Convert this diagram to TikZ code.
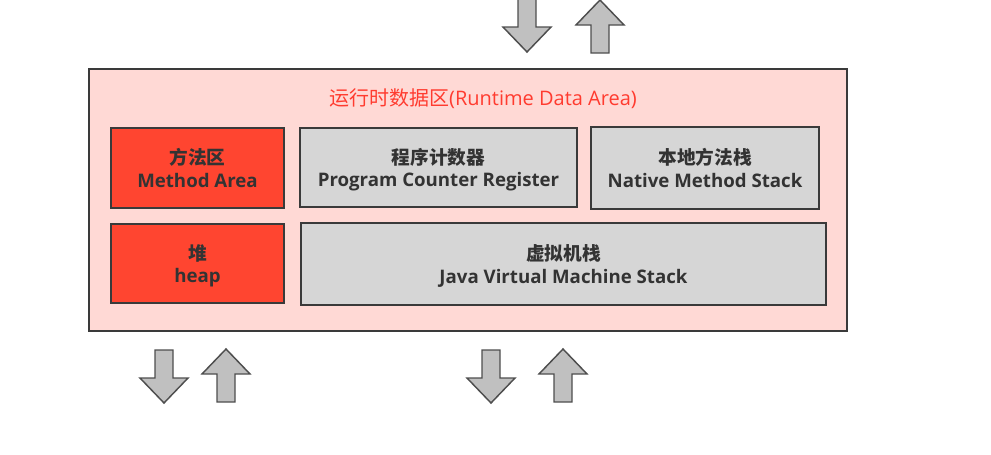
\documentclass[tikz,border=0pt]{standalone}
\usepackage{fontspec}
\setmainfont{Open Sans}
\newfontfamily\cjk{Noto Sans CJK SC}
\usepackage{tikz}
\definecolor{areaFill}{HTML}{FFD9D5}
\definecolor{heapRed}{HTML}{FF4530}
\definecolor{stackGray}{HTML}{D6D6D6}
\definecolor{edgeGray}{HTML}{3A3A3A}
\definecolor{arrowGray}{HTML}{C0C0C0}
\definecolor{titleRed}{HTML}{FF3B2F}
\definecolor{labelGray}{HTML}{333333}
\tikzset{
  pics/down arrow/.style={
    code={
      \draw[block arrow] (-9,0) -- (9,0) -- (9,28) -- (24,28) -- (0,53)
        -- (-24,28) -- (-9,28) -- cycle;
    },
  },
  pics/up arrow/.style={
    code={
      \draw[block arrow] (0,0) -- (24,25) -- (9,25) -- (9,53) -- (-9,53)
        -- (-9,25) -- (-24,25) -- cycle;
    },
  },
}

\begin{document}
\begin{tikzpicture}[
  x=0.75pt,
  y=-0.75pt,
  block arrow/.style={
    draw=edgeGray!90,
    line width=1.1pt,
    fill=arrowGray,
    line join=miter,
  },
  data area/.style={
    draw=edgeGray,
    line width=1.5pt,
    fill=areaFill,
    inner sep=0pt,
  },
  memory box/.style={
    draw=edgeGray,
    line width=1.5pt,
    inner sep=0pt,
    text depth=0pt,
    align=center,
    text=labelGray,
    font=\fontsize{14}{17}\selectfont\bfseries,
  },
  shared box/.style={
    memory box,
    fill=heapRed,
  },
  thread box/.style={
    memory box,
    fill=stackGray,
  },
]
\useasboundingbox (0,0) rectangle (991,454);
% runtime data area
\node[data area, minimum width=758*0.75pt, minimum height=262*0.75pt]
  (rda) at (468,200) {};
\node[text=titleRed, font=\fontsize{15}{17}\selectfont]
  (rdaTitle) at (483,99) {{\cjk 运行时数据区}(Runtime Data Area)};
% first row
\node[shared box, minimum width=173*0.75pt, minimum height=80*0.75pt]
  (method) at (197.5,168) {{\cjk 方法区}\\Method Area};
\node[thread box, minimum width=277*0.75pt, minimum height=79*0.75pt]
  (pcr) at (438.5,167.5) {{\cjk 程序计数器}\\Program Counter Register};
\node[thread box, minimum width=228*0.75pt, minimum height=82*0.75pt]
  (native) at (705,168) {{\cjk 本地方法栈}\\Native Method Stack};
% second row
\node[shared box, minimum width=173*0.75pt, minimum height=79*0.75pt]
  (heap) at (197.5,263.5) {{\cjk 堆}\\heap};
\node[thread box, minimum width=525*0.75pt, minimum height=82*0.75pt]
  (jvmStack) at (563.5,264) {{\cjk 虚拟机栈}\\Java Virtual Machine Stack};
% in and out
\pic at (527,-1) {down arrow};
\pic at (600,0) {up arrow};
\pic at (164,350) {down arrow};
\pic at (226,349) {up arrow};
\pic at (491,350) {down arrow};
\pic at (563,349) {up arrow};
\end{tikzpicture}
\end{document}
